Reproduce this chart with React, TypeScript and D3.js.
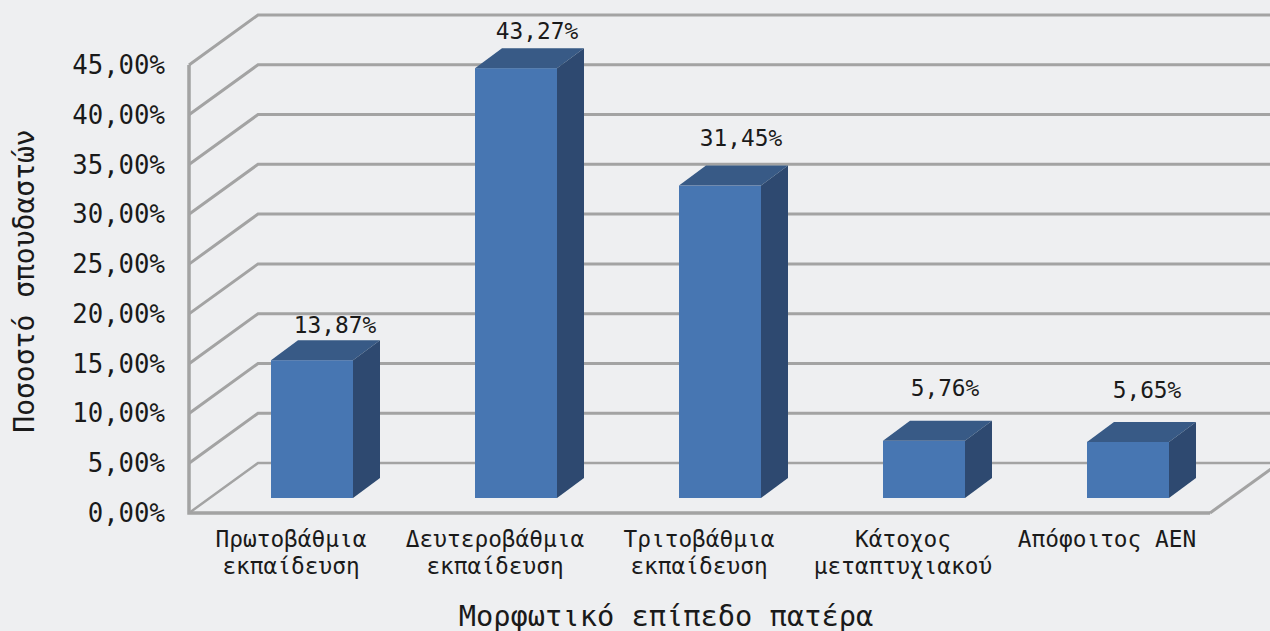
import React from "react";
import * as d3 from "d3";

const categories = [
  ["Πρωτοβάθμια", "εκπαίδευση"],
  ["Δευτεροβάθμια", "εκπαίδευση"],
  ["Τριτοβάθμια", "εκπαίδευση"],
  ["Κάτοχος", "μεταπτυχιακού"],
  ["Απόφοιτος ΑΕΝ"],
];
const values = [13.87, 43.27, 31.45, 5.76, 5.65];
const valueLabels = ["13,87%", "43,27%", "31,45%", "5,76%", "5,65%"];
const ticks = [0, 5, 10, 15, 20, 25, 30, 35, 40, 45];
const tickLabels = ["0,00%", "5,00%", "10,00%", "15,00%", "20,00%", "25,00%", "30,00%", "35,00%", "40,00%", "45,00%"];
const yTitle = "Ποσοστό σπουδαστών";
const xTitle = "Μορφωτικό επίπεδο πατέρα";

const W = 1270, H = 631;
const FONT = "'DejaVu Sans Mono', monospace";
const GRID = "#a3a3a3";

const y = d3.scaleLinear().domain([0, 45]).range([513, 65]);
const wallDX = 69, wallDY = -50;
const barDX = 27, barDY = -20;
const barBase = 498;
const barY = d3.scaleLinear().domain([0, 45]).range([barBase, barBase - 447]);
const bandX = d3.scaleLinear().domain([0, 4]).range([271, 1087]);

const T: React.FC<any> = ({ children, ...p }) => (
  <text fontFamily={FONT} fill="#1a1a1a" {...p}>{children}</text>
);

export default function App() {
  const barW = 82;
  const labelLift = [27, 29, 40, 45, 44];
  const labelDx = [64, 62, 62, 62, 60];
  return (
    <svg width={W} height={H} viewBox={`0 0 ${W} ${H}`} style={{ position: "absolute", left: 0, top: 0, background: "#eeeff1" }}>
      <defs>
        <filter id="soft" x="-5%" y="-5%" width="110%" height="110%">
          <feGaussianBlur stdDeviation="0.6" />
        </filter>
      </defs>
      <g filter="url(#soft)">
        {ticks.map((t) => (
          <path key={t} d={`M189,${y(t)}L${189 + wallDX},${y(t) + wallDY}L${W},${y(t) + wallDY}`}
            fill="none" stroke={GRID} strokeWidth={t === 0 ? 2.5 : 3} />
        ))}
        <path d={`M189,${y(45)}V${y(0)}H1210`} fill="none" stroke={GRID} strokeWidth={3.5} />
        <path d={`M1210,${y(0)}L${W + 1},${y(0) - 44}`} fill="none" stroke={GRID} strokeWidth={3} />
        {values.map((v, i) => {
          const x0 = bandX(i), x1 = x0 + barW, t = barY(v), b = barBase;
          return (
            <g key={i}>
              <rect x={x0} y={t} width={barW} height={b - t} fill="#4676b2" />
              <path d={`M${x0},${t}L${x0 + barDX},${t + barDY}H${x1 + barDX}L${x1},${t}Z`} fill="#375a86" />
              <path d={`M${x1},${t}L${x1 + barDX},${t + barDY}V${b + barDY}L${x1},${b}Z`} fill="#2d4a70" />
            </g>
          );
        })}
      </g>
      {values.map((v, i) => (
        <T key={i} x={bandX(i) + labelDx[i]} y={barY(v) - labelLift[i]} fontSize={22.8} textAnchor="middle">{valueLabels[i]}</T>
      ))}
      {ticks.map((t, i) => (
        <T key={t} x={165} y={y(t) + 9} fontSize={25.7} textAnchor="end">{tickLabels[i]}</T>
      ))}
      {categories.map((lines, i) => (
        <T key={i} fontSize={22.8} textAnchor="middle">
          {lines.map((l, j) => <tspan key={j} x={bandX(i) + 20} y={547 + j * 27}>{l}</tspan>)}
        </T>
      ))}
      <T x={666} y={625.5} fontSize={28.7} textAnchor="middle">{xTitle}</T>
      <T transform="translate(34,281) rotate(-90)" fontSize={28} textAnchor="middle">{yTitle}</T>
    </svg>
  );
}
